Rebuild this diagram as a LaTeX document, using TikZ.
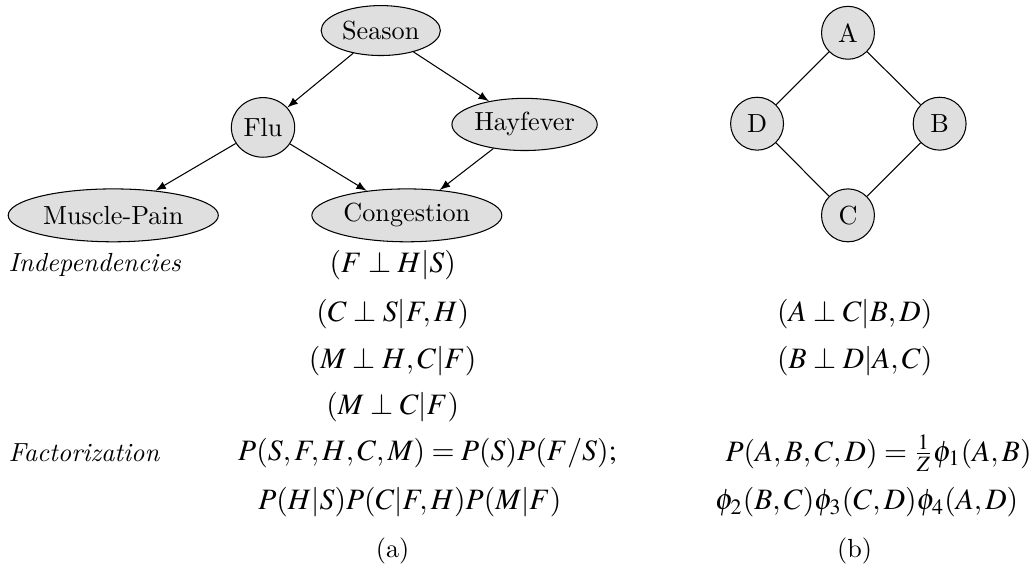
\documentclass[tikz,border=0pt]{standalone}
\usepackage{mathptmx}
\renewcommand{\rmdefault}{lmr}
\usetikzlibrary{shapes.geometric}

\begin{document}
\begin{tikzpicture}[
    var/.style={ellipse, draw, fill=gray!25, inner sep=0pt},
    mnode/.style={circle, draw, fill=gray!25, inner sep=0pt, minimum size=0.71cm},
    txt/.style={inner sep=0pt},
    eq/.style={inner sep=0pt, font=\fontsize{11.3}{13.6}\selectfont},
    edge/.style={-latex}]
  \useasboundingbox (0,0) rectangle (13.89,7.64);

  % --- (a) Bayesian network ---
  \node[var, minimum width=1.60cm, minimum height=0.67cm] (season) at (5.11,7.23) {Season};
  \node[var, minimum width=0.85cm, minimum height=0.80cm] (flu) at (3.53,5.93) {Flu};
  \node[var, minimum width=1.95cm, minimum height=0.70cm] (hayfever) at (7.04,5.97) {Hayfever};
  \node[var, minimum width=2.82cm, minimum height=0.71cm] (pain) at (1.52,4.75) {Muscle-Pain};
  \node[var, minimum width=2.55cm, minimum height=0.71cm] (congestion) at (5.46,4.75) {Congestion};

  \draw[edge] (season) -- (flu);
  \draw[edge] (season) -- (hayfever);
  \draw[edge] (flu) -- (pain);
  \draw[edge] (flu) -- (congestion);
  \draw[edge] (hayfever) -- (congestion);

  % --- (b) Markov network ---
  \foreach \n/\x/\y in {a/11.38/7.20, d/10.16/5.98, b/12.61/5.98, c/11.38/4.75}
    \node[mnode] (\n) at (\x,\y) {\MakeUppercase{\n}};
  \draw (a) -- (b) -- (c) -- (d) -- (a);

  % --- independencies ---
  \node[txt, anchor=west] (indep) at (0.11,4.08) {\textit{Independencies}};
  \node[eq] (ia1) at (5.27,4.08) {$(F \perp H|S)$};
  \node[eq] (ia2) at (5.27,3.43) {$(C \perp S|F,H)$};
  \node[eq] (ia3) at (5.27,2.80) {$(M \perp H,C|F)$};
  \node[eq] (ia4) at (5.27,2.17) {$(M \perp C|F)$};
  \node[eq] (ib1) at (11.47,3.43) {$(A \perp C|B,D)$};
  \node[eq] (ib2) at (11.47,2.80) {$(B \perp D|A,C)$};

  % --- factorization ---
  \node[txt, anchor=west] (fact) at (0.11,1.56) {\textit{Factorization}};
  \node[eq, anchor=west] (fa1) at (3.19,1.56) {$P(S,F,H,C,M) = P(S)P(F/S);$};
  \node[eq, anchor=west] (fa2) at (3.46,0.90) {$P(H|S)P(C|F,H)P(M|F)$};
  \node[eq, anchor=east] (fb1) at (13.85,1.56) {$P(A,B,C,D) = \frac{1}{Z}\phi_1(A,B)$};
  \node[eq, anchor=west] (fb2) at (9.59,0.90) {$\phi_2(B,C)\phi_3(C,D)\phi_4(A,D)$};

  % --- captions ---
  \node[txt] (capa) at (5.27,0.25) {(a)};
  \node[txt] (capb) at (11.47,0.25) {(b)};
\end{tikzpicture}
\end{document}
